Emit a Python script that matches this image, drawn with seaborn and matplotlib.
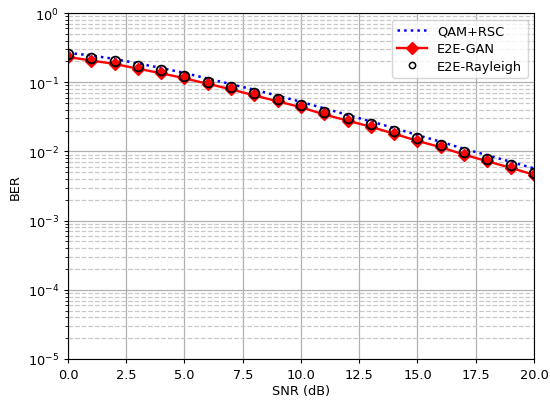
import matplotlib
matplotlib.use("Agg")
import matplotlib.pyplot as plt
import seaborn as sns
import numpy as np

snr = list(range(0, 21))
ber_qam_rsc = [0.266, 0.244, 0.217, 0.187, 0.161, 0.136, 0.113, 0.0938, 0.0779, 0.0638, 0.0521,
               0.0419, 0.0337, 0.0271, 0.0218, 0.0172, 0.0138, 0.0109, 0.00881, 0.00708, 0.00569]
ber_e2e_gan = [0.232, 0.206, 0.184, 0.157, 0.135, 0.114, 0.095, 0.079, 0.0645, 0.053, 0.0435,
               0.0342, 0.0279, 0.0227, 0.0180, 0.0142, 0.0115, 0.0090, 0.0072, 0.0058, 0.0046]
ber_e2e_rayleigh = [0.252, 0.226, 0.202, 0.169, 0.148, 0.125, 0.102, 0.0853, 0.0698, 0.0571, 0.0471,
                    0.0372, 0.0302, 0.0247, 0.0195, 0.0154, 0.01245, 0.00973, 0.00778, 0.00629, 0.00492]

plt.rcParams["font.size"] = 9.3

fig = plt.figure(figsize=(5.5, 4.02), dpi=100)
ax = fig.add_axes([0.1236, 0.1045, 0.8473, 0.8605])

sns.lineplot(x=snr, y=ber_qam_rsc, ax=ax, color="blue", linestyle=":", linewidth=1.8,
             label="QAM+RSC")
sns.lineplot(x=snr, y=ber_e2e_gan, ax=ax, color="red", linewidth=1.7, marker="D",
             markersize=6, markeredgecolor="red", markeredgewidth=1, label="E2E-GAN")
sns.lineplot(x=snr, y=ber_e2e_rayleigh, ax=ax, color="black", linestyle="none", marker="o",
             markersize=7, markerfacecolor="none", markeredgecolor="black",
             markeredgewidth=1.3, label="E2E-Rayleigh")

ax.set_yscale("log")
ax.set_ylim(1e-5, 1)
ax.set_xlim(0, 20)
ax.set_xlabel("SNR (dB)", labelpad=2)
ax.set_ylabel("BER")
ax.tick_params(which="major", length=3)
ax.tick_params(which="minor", length=2)
ax.grid(True, which="major", linestyle="-", color="#b0b0b0", linewidth=0.9)
ax.grid(True, which="minor", axis="y", linestyle="--", color="#c8c8c8", linewidth=0.9)
ax.set_axisbelow(True)
leg = ax.legend(loc="upper right", labelspacing=0.35, handlelength=2.3)
leg.legend_handles[2].set_markersize(4.5)
leg.legend_handles[2].set_markeredgewidth(1.1)

fig.savefig("out.png", dpi=100)
